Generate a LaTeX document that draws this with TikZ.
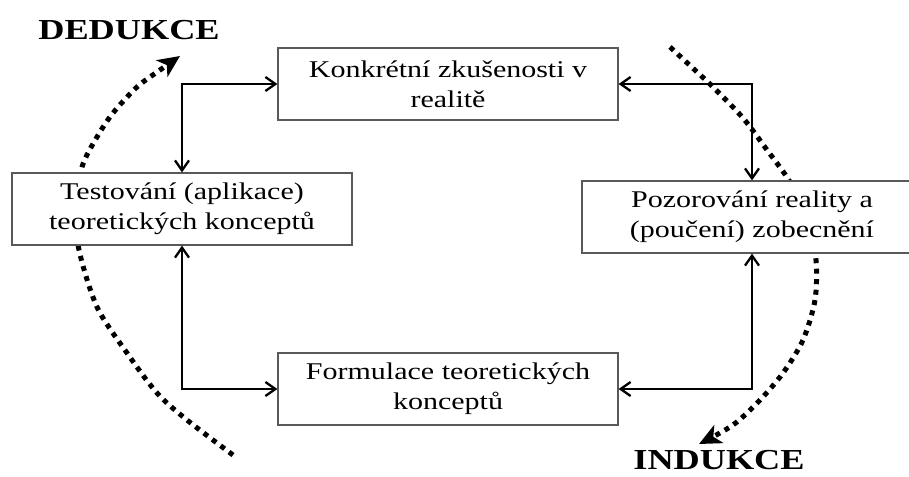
\documentclass[tikz,border=0pt]{standalone}
\usepackage{fontspec}
\setmainfont{Liberation Serif}[FakeStretch=1.25]
\usetikzlibrary{arrows.meta}
\begin{document}
\begin{tikzpicture}[x=1pt,y=-1pt,
  stage/.style={draw=black!65, line width=1.2pt, fill=white,
    minimum width=340pt, minimum height=72pt, align=center,
    font=\fontsize{24}{30}\selectfont, inner sep=0pt},
  link/.style={line width=2.3pt, {Straight Barb[length=10pt,width=14pt]}-{Straight Barb[length=10pt,width=14pt]}},
  dotarc/.style={line width=5pt, dash pattern=on 5pt off 5.5pt,
    -{Stealth[length=22pt,width=20pt,inset=6pt]}},
  tag/.style={font=\fontsize{29}{34}\selectfont\bfseries}]
\path[use as bounding box, clip] (0,0) rectangle (909,476);

% deduction arc (left) and induction arc (right)
\draw[dotarc] plot[smooth] coordinates {(233,455) (187,420) (157,393) (127,353) (97,307) (79,250) (76,210) (82,167) (97,137) (113,113) (137,87) (160,70) (180,56)};
\draw[dotarc] plot[smooth] coordinates {(670,47) (697,72) (713,87) (743,118) (767,150) (790,182) (808,220) (816,260) (815,300) (803,340) (783,373) (760,400) (733,425) (699,444)};

% the four stages of the cycle
\node[stage] (top) at (448,84) {Konkrétní zkušenosti v\\realitě};
\node[stage] (left) at (182,209) {Testování (aplikace)\\teoretických konceptů};
\node[stage] (right) at (752,217) {Pozorování reality a\\(poučení) zobecnění};
\node[stage] (bottom) at (448,389) {Formulace teoretických\\konceptů};

% connectors between neighbouring stages
\draw[link] (left.north) |- (top.west);
\draw[link] (right.north) |- (top.east);
\draw[link] (left.south) |- (bottom.west);
\draw[link] (right.south) |- (bottom.east);

% labels
\node[tag] (ded) at (129,30) {DEDUKCE};
\node[tag] (ind) at (719,460) {INDUKCE};
\end{tikzpicture}
\end{document}
